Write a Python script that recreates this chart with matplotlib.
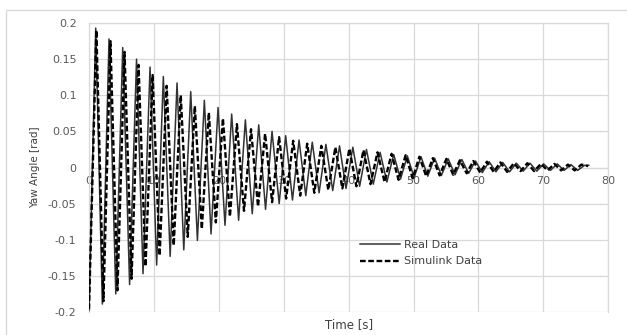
import matplotlib.pyplot as plt
from matplotlib.patches import Rectangle

real_t = [0.0, 1.03, 2.05, 3.08, 4.12, 5.19, 6.25, 7.32, 8.32, 9.40,
          10.42, 11.45, 12.5, 13.56, 14.6, 15.67, 16.7, 17.77, 18.8, 19.88,
          20.95, 21.98, 23.05, 24.09, 25.15, 26.15, 27.2, 28.2, 29.3, 30.3,
          31.35, 32.36, 33.4, 34.4, 35.45, 36.5, 37.55, 38.6, 39.6, 40.65,
          41.7, 42.75, 43.8, 44.85, 45.9, 46.95, 48.0, 49.05, 50.1, 51.15,
          52.2, 53.25, 54.3, 55.35, 56.4, 57.45, 58.5, 59.55, 60.6, 61.65,
          62.7, 63.75, 64.8, 65.85, 66.9, 67.95, 69.0, 70.05, 71.1, 72.15,
          73.2, 74.25, 75.3, 76.35, 77.0]
real_yaw = [-0.198, 0.193, -0.189, 0.178, -0.175, 0.166, -0.162, 0.150, -0.147, 0.139,
            -0.135, 0.126, -0.123, 0.117, -0.114, 0.105, -0.101, 0.093, -0.092, 0.083,
            -0.080, 0.074, -0.073, 0.066, -0.064, 0.059, -0.058, 0.050, -0.050, 0.044,
            -0.045, 0.038, -0.039, 0.035, -0.035, 0.032, -0.032, 0.030, -0.029, 0.028,
            -0.026, 0.025, -0.023, 0.021, -0.020, 0.018, -0.016, 0.016, -0.014, 0.015,
            -0.012, 0.013, -0.011, 0.012, -0.010, 0.011, -0.008, 0.009, -0.007, 0.008,
            -0.006, 0.007, -0.006, 0.006, -0.005, 0.006, -0.005, 0.005, -0.004, 0.005,
            -0.004, 0.004, -0.004, 0.003, 0.003]

# simulink model, slightly longer period and lower amplitude
sim_t = [0.0, 1.13, 2.22, 3.30, 4.38, 5.47, 6.55, 7.63, 8.71, 9.80,
         10.88, 11.96, 13.05, 14.13, 15.21, 16.30, 17.38, 18.46, 19.54, 20.63,
         21.71, 22.79, 23.88, 24.96, 26.04, 27.13, 28.21, 29.29, 30.37, 31.46,
         32.54, 33.62, 34.71, 35.79, 36.87, 37.96, 39.04, 40.12, 41.20, 42.29,
         43.37, 44.45, 45.54, 46.62, 47.70, 48.79, 49.87, 50.91, 51.95, 52.99,
         54.03, 55.07, 56.11, 57.15, 58.19, 59.23, 60.27, 61.31, 62.35, 63.39,
         64.43, 65.47, 66.51, 67.55, 68.59, 69.63, 70.67, 71.71, 72.75, 73.79,
         74.83, 75.87, 76.91]
sim_yaw = [-0.196, 0.190, -0.185, 0.175, -0.170, 0.160, -0.154, 0.142, -0.137, 0.128,
           -0.122, 0.113, -0.108, 0.100, -0.096, 0.085, -0.085, 0.076, -0.076, 0.068,
           -0.068, 0.060, -0.060, 0.053, -0.054, 0.047, -0.048, 0.042, -0.043, 0.037,
           -0.039, 0.033, -0.035, 0.030, -0.031, 0.028, -0.029, 0.026, -0.026, 0.024,
           -0.023, 0.021, -0.020, 0.019, -0.017, 0.017, -0.015, 0.015, -0.012, 0.013,
           -0.011, 0.012, -0.010, 0.010, -0.008, 0.009, -0.007, 0.008, -0.006, 0.007,
           -0.006, 0.006, -0.005, 0.006, -0.005, 0.005, -0.004, 0.005, -0.004, 0.004,
           -0.004, 0.004, 0.002]

x_ticks = [0, 10, 20, 30, 40, 50, 60, 70, 80]
y_ticks = [-0.2, -0.15, -0.1, -0.05, 0, 0.05, 0.1, 0.15, 0.2]
y_labels = ['-0.2', '-0.15', '-0.1', '-0.05', '0', '0.05', '0.1', '0.15', '0.2']

plt.rcParams['font.family'] = ['DejaVu Sans']
grid_c = '#d9d9d9'
text_c = '#595959'

fig = plt.figure(figsize=(6.27, 3.35), dpi=100)
ax = fig.add_axes([0.142, 0.0687, 0.828, 0.8626])

ax.plot(real_t, real_yaw, color='#333333', lw=1.1, label='Real Data', zorder=3)
ax.plot(sim_t, sim_yaw, color='black', lw=1.7, dashes=(2.4, 1.1),
        label='Simulink Data', zorder=4)

ax.set_xlim(0, 80)
ax.set_ylim(-0.2, 0.2)
ax.set_xticks(x_ticks)
ax.set_yticks(y_ticks)
ax.set_yticklabels(y_labels)
ax.set_axisbelow(True)
ax.grid(True, color=grid_c, lw=0.9)
ax.tick_params(length=0, labelsize=8, labelcolor=text_c)
ax.tick_params(axis='y', pad=9)
ax.tick_params(axis='x', pad=6)

ax.spines['bottom'].set_position(('data', 0))
for s in ax.spines.values():
    s.set_color(grid_c)
    s.set_linewidth(0.9)

ax.set_xlabel('Time [s]', fontsize=8.5, color='#404040')
ax.xaxis.set_label_coords(0.5, -0.02)
ax.set_ylabel('Yaw Angle [rad]', fontsize=7.5, color='#404040')
ax.yaxis.set_label_coords(-0.094, 0.5)

leg = ax.legend(loc='upper left', bbox_to_anchor=(0.522, 0.25), frameon=False,
                fontsize=8, handlelength=3.6, handletextpad=0.4,
                labelspacing=0.6, borderpad=0, borderaxespad=0)
for t in leg.get_texts():
    t.set_color('#404040')

# chart area border, partly cut off at the right and bottom
fig.patches.append(Rectangle((0.0088, -0.2), 1.2, 1.17, transform=fig.transFigure,
                             fill=False, ec=grid_c, lw=1))

fig.savefig('out.png', dpi=100)
